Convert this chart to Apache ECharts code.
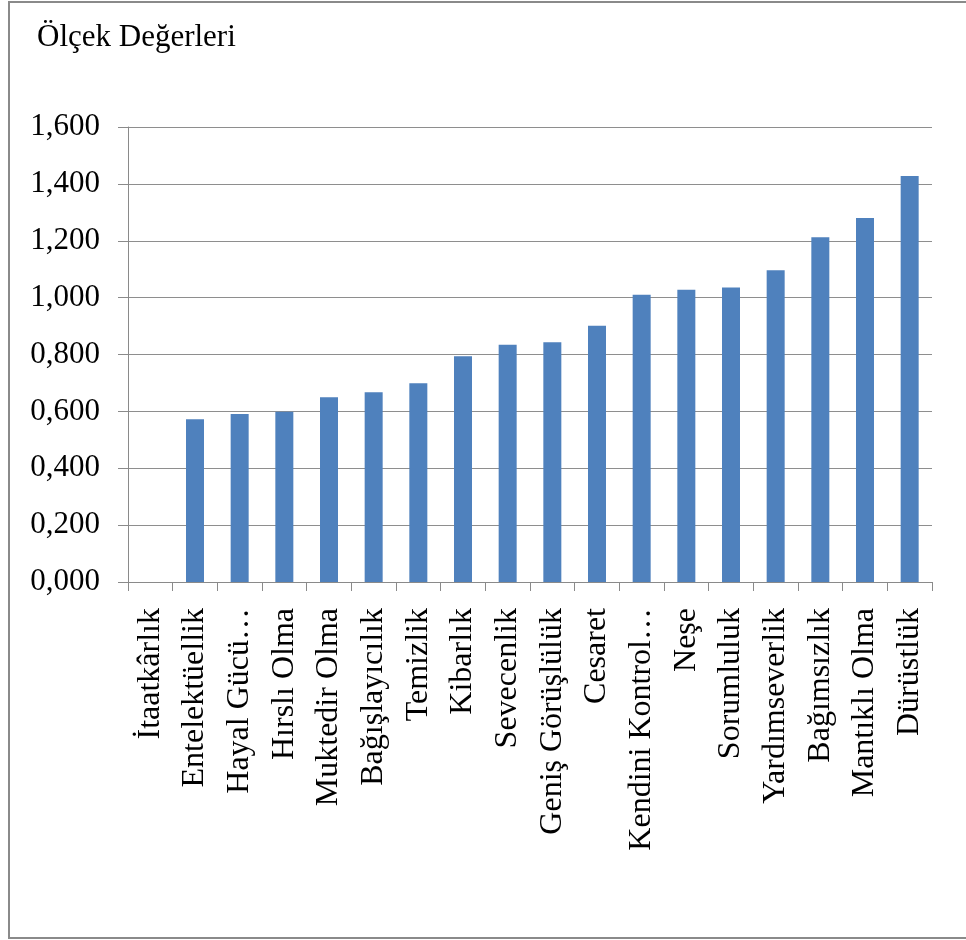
<!DOCTYPE html>
<html>
<head>
<meta charset="utf-8">
<script src="https://cdn.jsdelivr.net/npm/echarts@6/dist/echarts.min.js"></script>
<style>
html,body{margin:0;padding:0;background:#fff;}
#chart{width:966px;height:940px;}
</style>
</head>
<body>
<div id="chart"></div>
<script>
const categories = ['İtaatkârlık','Entelektüellik','Hayal Gücü…','Hırslı Olma','Muktedir Olma','Bağışlayıcılık','Temizlik','Kibarlık','Sevecenlik','Geniş Görüşlülük','Cesaret','Kendini Kontrol…','Neşe','Sorumluluk','Yardımseverlik','Bağımsızlık','Mantıklı Olma','Dürüstlük'];
const values = [0, 0.572, 0.591, 0.599, 0.650, 0.667, 0.699, 0.794, 0.834, 0.843, 0.901, 1.010, 1.028, 1.036, 1.096, 1.212, 1.280, 1.428];
const yTicks = [0, 0.2, 0.4, 0.6, 0.8, 1.0, 1.2, 1.4, 1.6];
const yTitle = 'Ölçek Değerleri';

const chart = echarts.init(document.getElementById('chart'), null, {renderer:'canvas'});
const serif = "'Liberation Serif','Times New Roman',serif";
chart.setOption({
  animation:false,
  backgroundColor:'#fff',
  title:{text:yTitle,left:32,top:17,textStyle:{fontFamily:serif,fontSize:31,fontWeight:'normal',color:'#000'}},
  grid:{left:128,right:34,top:127,bottom:358,containLabel:false},
  xAxis:{type:'category',data:categories,
    axisLine:{lineStyle:{color:'#8a8a8a',width:1}},
    axisTick:{show:true,length:9,lineStyle:{color:'#8a8a8a'}},
    axisLabel:{rotate:90,interval:0,margin:26,fontFamily:serif,fontSize:32,color:'#000'}},
  yAxis:{type:'value',min:yTicks[0],max:yTicks[yTicks.length-1],interval:0.2,
    axisLine:{show:true,lineStyle:{color:'#8a8a8a'}},
    axisTick:{show:true,length:10,lineStyle:{color:'#8a8a8a'}},
    splitLine:{lineStyle:{color:'#8e8e8e',width:1}},
    axisLabel:{margin:28,fontFamily:serif,fontSize:31,color:'#000',
      formatter:v=>v.toFixed(3).replace('.',',')}},
  series:[{type:'bar',data:values,barWidth:18,
    itemStyle:{color:'#4f81bd',borderWidth:0}}],
  graphic:[
    {type:'polyline',shape:{points:[[966,2],[9,2],[9,938],[966,938]]},style:{stroke:'#8a8a8a',lineWidth:2,fill:null}}
  ]
});
</script>
</body>
</html>
